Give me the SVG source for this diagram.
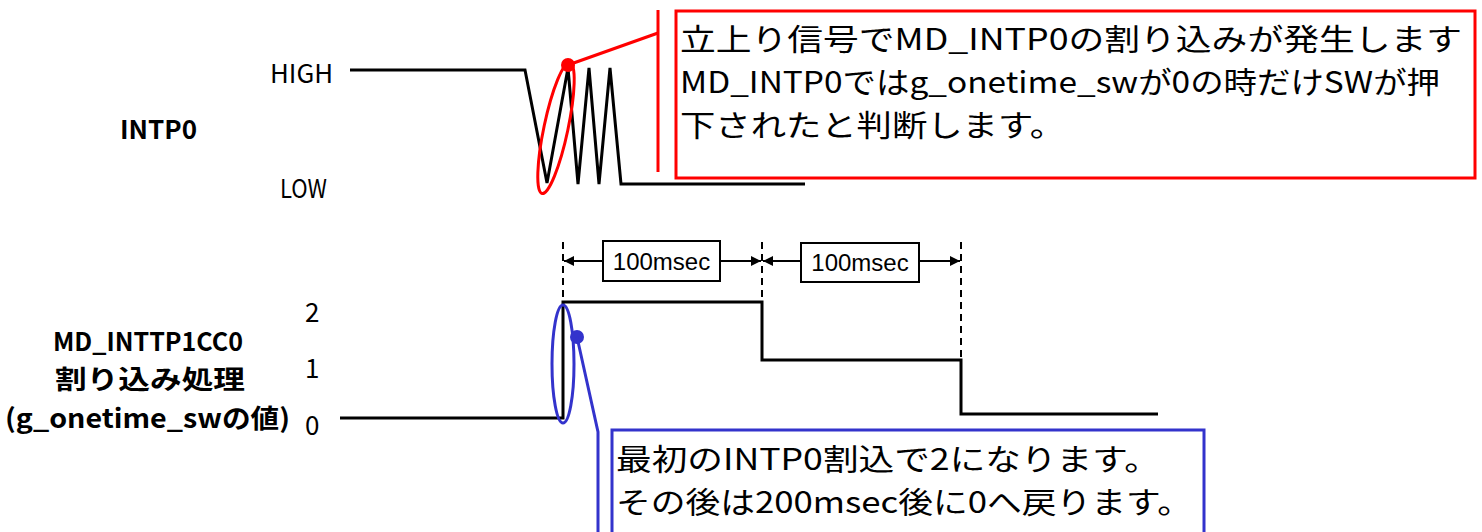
<svg xmlns="http://www.w3.org/2000/svg" width="1482" height="532" viewBox="0 0 1482 532">
<style>
text{font-family:"Noto Sans CJK JP","DejaVu Sans",sans-serif;fill:#000}
.lbl{font-size:26px}
.b{font-weight:bold}
.call{font-size:30px}
.ms{font-family:"Liberation Sans",Arial,sans-serif;font-size:24px}
.sig{fill:none;stroke:#000;stroke-width:3}
.dash{stroke:#000;stroke-width:2;stroke-dasharray:7,5}
.arr{stroke:#000;stroke-width:2}
</style>
<defs>
<marker id="ah" viewBox="0 0 10 10" refX="10" refY="5" markerWidth="10" markerHeight="10" markerUnits="userSpaceOnUse" orient="auto-start-reverse">
<path d="M0,0 L10,5 L0,10 z" fill="#000"/>
</marker>
</defs>
<g id="labels">
<text class="lbl b" x="120" y="139" textLength="77" lengthAdjust="spacingAndGlyphs">INTP0</text>
<text class="lbl" x="270" y="83" textLength="63" lengthAdjust="spacingAndGlyphs">HIGH</text>
<text class="lbl" x="280" y="198" textLength="47" lengthAdjust="spacingAndGlyphs">LOW</text>
<text class="lbl b" x="53" y="351" textLength="190" lengthAdjust="spacingAndGlyphs">MD_INTTP1CC0</text>
<text class="lbl b" x="55" y="389" textLength="190" lengthAdjust="spacingAndGlyphs">割り込み処理</text>
<text class="lbl b" x="5" y="428" textLength="285" lengthAdjust="spacingAndGlyphs">(g_onetime_swの値)</text>
<text class="lbl" x="305" y="322">2</text>
<text class="lbl" x="305" y="378">1</text>
<text class="lbl" x="305" y="435">0</text>
</g>
<g id="intp0-signal">
<polyline class="sig" points="350,70 525,70 547,183 568,68 578,184 589,68 599,184 610,68 621,184 805,184"/>
</g>
<g id="onetime-signal">
<polyline class="sig" points="340,418 563,418 563,302 762,302 762,360 961,360 961,414 1158,414"/>
</g>
<g id="connectors">
<line class="dash" x1="563" y1="242" x2="563" y2="302"/>
<line class="dash" x1="762" y1="242" x2="762" y2="302"/>
<line class="dash" x1="961" y1="242" x2="961" y2="360"/>
<line class="arr" x1="603" y1="261" x2="564" y2="261" marker-end="url(#ah)"/>
<line class="arr" x1="720" y1="261" x2="761" y2="261" marker-end="url(#ah)"/>
<line class="arr" x1="801" y1="261" x2="763" y2="261" marker-end="url(#ah)"/>
<line class="arr" x1="919" y1="261" x2="960" y2="261" marker-end="url(#ah)"/>
</g>
<g id="dur1">
<rect x="603" y="241" width="117" height="40" fill="#fff" stroke="#000" stroke-width="2"/>
<text class="ms" x="661.5" y="270" text-anchor="middle">100msec</text>
</g>
<g id="dur2">
<rect x="801" y="243" width="118" height="39" fill="#fff" stroke="#000" stroke-width="2"/>
<text class="ms" x="860" y="271" text-anchor="middle">100msec</text>
</g>
<g id="red-callout">
<ellipse cx="556" cy="128" rx="12" ry="67" transform="rotate(12 556 128)" fill="none" stroke="#f00" stroke-width="3"/>
<circle cx="568" cy="65" r="7" fill="#f00"/>
<line x1="568" y1="65" x2="658" y2="33" stroke="#f00" stroke-width="3"/>
<line x1="658" y1="10" x2="658" y2="172" stroke="#f00" stroke-width="3"/>
<rect x="676" y="11" width="799" height="167" fill="#fff" stroke="#f00" stroke-width="3"/>
<text class="call" x="680" y="50" textLength="782" lengthAdjust="spacingAndGlyphs">立上り信号でMD_INTP0の割り込みが発生します</text>
<text class="call" x="680" y="93" textLength="760" lengthAdjust="spacingAndGlyphs">MD_INTP0ではg_onetime_swが0の時だけSWが押</text>
<text class="call" x="680" y="136" textLength="385" lengthAdjust="spacingAndGlyphs">下されたと判断します。</text>
</g>
<g id="blue-callout">
<ellipse cx="563" cy="364" rx="11" ry="59" fill="none" stroke="#3333cc" stroke-width="3"/>
<circle cx="577" cy="337" r="7" fill="#3333cc"/>
<polyline points="577,337 598,432 598,532" fill="none" stroke="#3333cc" stroke-width="3"/>
<rect x="612" y="430" width="592" height="110" fill="#fff" stroke="#3333cc" stroke-width="3"/>
<text class="call" x="616" y="470" textLength="544" lengthAdjust="spacingAndGlyphs">最初のINTP0割込で2になります。</text>
<text class="call" x="616" y="513" textLength="576" lengthAdjust="spacingAndGlyphs">その後は200msec後に0へ戻ります。</text>
</g>
</svg>
